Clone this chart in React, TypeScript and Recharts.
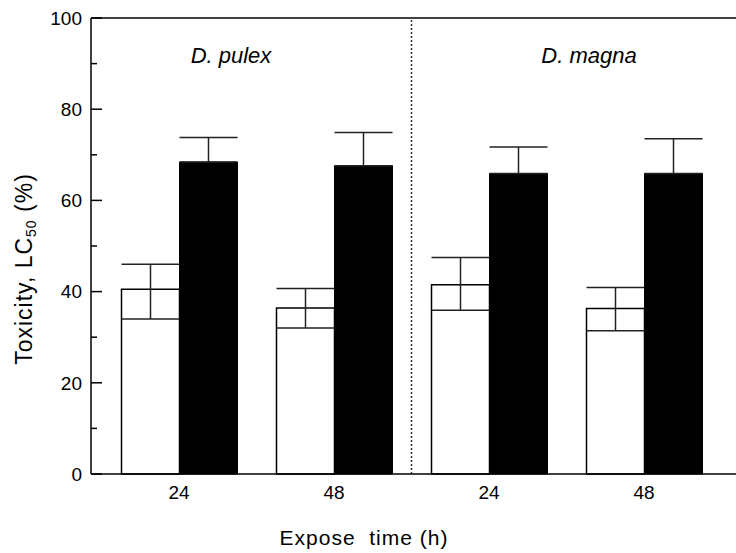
import React from 'react';
import { BarChart, Bar, XAxis, YAxis, ErrorBar, ReferenceLine, Customized } from 'recharts';

// groups: D. pulex 24h/48h, D. magna 24h/48h
const groups = ['p24', 'p48', 'm24', 'm48'];
const hours = ['24', '48', '24', '48'];
const whiteValues = [40.5, 36.4, 41.5, 36.3];
const whiteErrors = [[6.5, 5.5], [4.4, 4.3], [5.6, 6.0], [4.9, 4.6]];
const blackValues = [68.4, 67.6, 65.9, 65.9];
const blackErrors = [5.4, 7.3, 5.8, 7.6];
const yTicks = [0, 10, 20, 30, 40, 50, 60, 70, 80, 90, 100];
const species = ['D. pulex', 'D. magna'];

const data = groups.map((g, i) => ({
  name: g,
  white: whiteValues[i],
  whiteErr: whiteErrors[i],
  black: blackValues[i],
  blackErr: [0, blackErrors[i]],
}));

const FONT = '"Liberation Sans", Arial, sans-serif';

const YTick = (props: any) => {
  const { x, y, payload } = props;
  const major = payload.value % 20 === 0;
  const axisX = x + 9;
  return (
    <g>
      <line x1={axisX} x2={axisX + (major ? 11 : 6)} y1={y} y2={y} stroke="#000" strokeWidth={1.5} />
      {major && (
        <text x={x} y={y} dy="0.36em" textAnchor="end" fontSize={19} fontFamily={FONT} fill="#000">
          {payload.value}
        </text>
      )}
    </g>
  );
};

const Annotations = () => (
  <g fontFamily={FONT} fill="#000">
    <text x={231} y={63} textAnchor="middle" fontSize={22} fontStyle="italic">{species[0]}</text>
    <text x={589} y={63} textAnchor="middle" fontSize={22} fontStyle="italic">{species[1]}</text>
    <text x={364} y={545} textAnchor="middle" fontSize={21} letterSpacing={1} xmlSpace="preserve">Expose  time (h)</text>
    <text transform="translate(32, 269) rotate(-90)" textAnchor="middle" fontSize={23} letterSpacing={1}>
      Toxicity, LC<tspan fontSize={14} dy={4}>50</tspan><tspan dy={-4}> (%)</tspan>
    </text>
  </g>
);

export default function App() {
  return (
    <div style={{ position: 'absolute', left: 0, top: 0, background: '#fff' }}>
      <BarChart
        width={736}
        height={553}
        data={data}
        margin={{ top: 18, right: 0, left: 0, bottom: 0 }}
        barSize={58}
        barGap={0}
      >
        <XAxis
          dataKey="name"
          height={79}
          padding={{ left: 10.5, right: 14.5 }}
          tickLine={false}
          tickSize={0}
          tickMargin={12}
          tickFormatter={(v: string, i: number) => hours[i]}
          tick={{ fontSize: 19, fontFamily: FONT, fill: '#000' }}
          axisLine={{ stroke: '#000', strokeWidth: 1.5 }}
        />
        <YAxis
          width={91}
          domain={[0, 100]}
          ticks={yTicks}
          interval={0}
          tickLine={false}
          tickSize={0}
          tickMargin={9}
          tick={<YTick />}
          axisLine={{ stroke: '#000', strokeWidth: 1.5 }}
        />
        <ReferenceLine y={100} stroke="#000" strokeWidth={1.5} />
        <ReferenceLine x="p48" position="end" stroke="#333" strokeWidth={1.5} strokeDasharray="2 2" />
        <Bar dataKey="white" fill="#fff" stroke="#000" strokeWidth={1.5} isAnimationActive={false}>
          <ErrorBar dataKey="whiteErr" width={29} stroke="#222" strokeWidth={1.5} />
        </Bar>
        <Bar dataKey="black" fill="#000" stroke="#000" strokeWidth={1} isAnimationActive={false}>
          <ErrorBar dataKey="blackErr" width={29} stroke="#222" strokeWidth={1.5} />
        </Bar>
        <Customized component={Annotations} />
      </BarChart>
    </div>
  );
}
